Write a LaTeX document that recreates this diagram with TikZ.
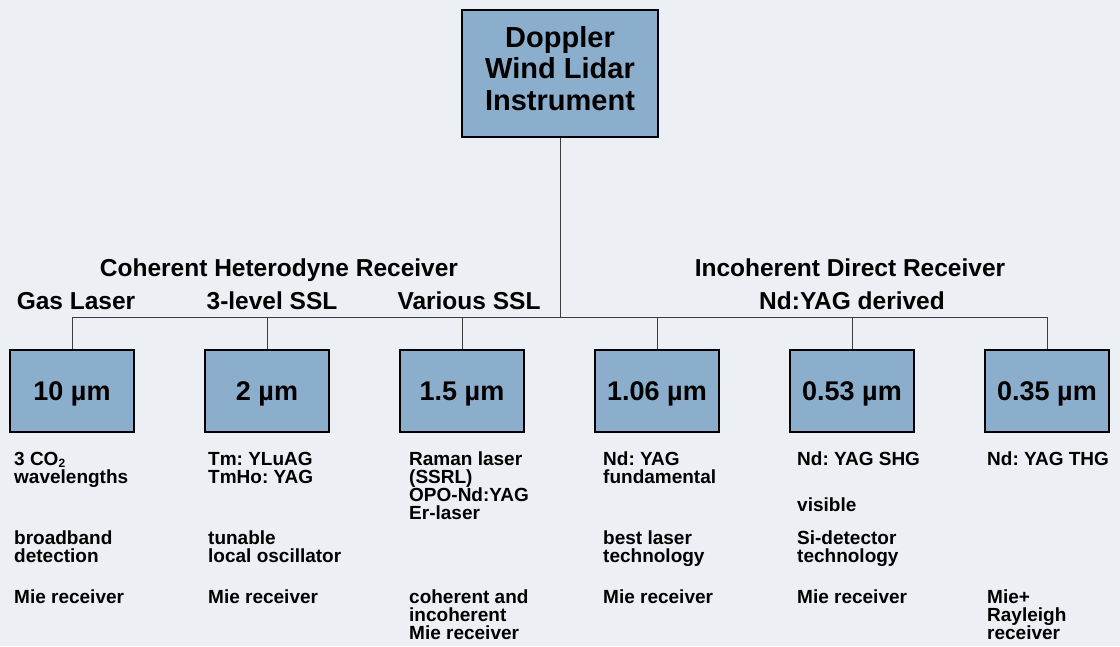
\documentclass[tikz,border=0pt]{standalone}
\usepackage{fontspec}
\setmainfont{Liberation Sans}
\frenchspacing
\definecolor{bg}{RGB}{236,239,243}
\definecolor{boxfill}{RGB}{140,174,205}
\definecolor{linecol}{RGB}{60,60,60}
\begin{document}
\begin{tikzpicture}[x=1pt,y=-1pt,
  box/.style={draw=black, line width=2pt, fill=boxfill, inner sep=0pt},
  wbox/.style={box, minimum width=124pt, minimum height=82pt, text height=19pt, text depth=0pt,
    font=\bfseries\fontsize{27}{30}\selectfont},
  conn/.style={draw=linecol, line width=0.9pt},
  hdr/.style={font=\bfseries\fontsize{24.5}{27}\selectfont, inner sep=0pt, anchor=base},
  body/.style={font=\bfseries\fontsize{19}{18}\selectfont, inner sep=0pt, align=left, anchor=north west}]
\fill[bg] (0,0) rectangle (1120,646);
\useasboundingbox (0,0) rectangle (1120,646);

% top box
\node[box, minimum width=196pt, minimum height=127pt] (top) at (560,73.5) {};
\node[font=\bfseries\fontsize{29}{31.5}\selectfont, align=center, inner sep=0pt, anchor=north] (toptext) at (560,26) {Doppler\\Wind Lidar\\Instrument};

% wavelength boxes
\node[wbox] (b1) at (72,391) {10 µm};
\node[wbox] (b2) at (267,391) {2 µm};
\node[wbox] (b3) at (462,391) {1.5 µm};
\node[wbox] (b4) at (657,391) {1.06 µm};
\node[wbox] (b5) at (852,391) {0.53 µm};
\node[wbox] (b6) at (1047,391) {0.35 µm};

% connectors
\coordinate (j) at (560,317);
\draw[conn] (top.south) -- (j);
\draw[conn] (b1.north |- j) -- (b6.north |- j);
\foreach \b in {b1,b2,b3,b4,b5,b6} {\draw[conn] (\b.north) -- (\b.north |- j);}

% headers
\node[hdr] (hcoh) at (279,276) {Coherent Heterodyne Receiver};
\node[hdr] (hinc) at (850,276) {Incoherent Direct Receiver};
\node[hdr] (hgas) at (76,309) {Gas Laser};
\node[hdr] (h3l) at (272,309) {3-level SSL};
\node[hdr] (hvar) at (469,309) {Various SSL};
\node[hdr] (hnd) at (852,309) {Nd:YAG derived};

% descriptions
\node[body] (c1a) at (14,452) {3 CO\raisebox{-0.25ex}{\fontsize{12}{12}\selectfont 2}\\wavelengths};
\node[body] (c1b) at (14,531) {broadband\\detection};
\node[body] (c1c) at (14,590) {Mie receiver};

\node[body] (c2a) at (208,452) {Tm: YLuAG\\TmHo: YAG};
\node[body] (c2b) at (208,531) {tunable\\local oscillator};
\node[body] (c2c) at (208,590) {Mie receiver};

\node[body] (c3a) at (409,452) {Raman laser\\(SSRL)\\OPO-Nd:YAG\\Er-laser};
\node[body] (c3c) at (409,590) {coherent and\\incoherent\\Mie receiver};

\node[body] (c4a) at (603,452) {Nd: YAG\\fundamental};
\node[body] (c4b) at (603,531) {best laser\\technology};
\node[body] (c4c) at (603,590) {Mie receiver};

\node[body] (c5a) at (797,452) {Nd: YAG SHG};
\node[body] (c5v) at (797,498) {visible};
\node[body] (c5b) at (797,531) {Si-detector\\technology};
\node[body] (c5c) at (797,590) {Mie receiver};

\node[body] (c6a) at (987,452) {Nd: YAG THG};
\node[body] (c6c) at (987,590) {Mie+\\Rayleigh\\receiver};
\end{tikzpicture}
\end{document}
